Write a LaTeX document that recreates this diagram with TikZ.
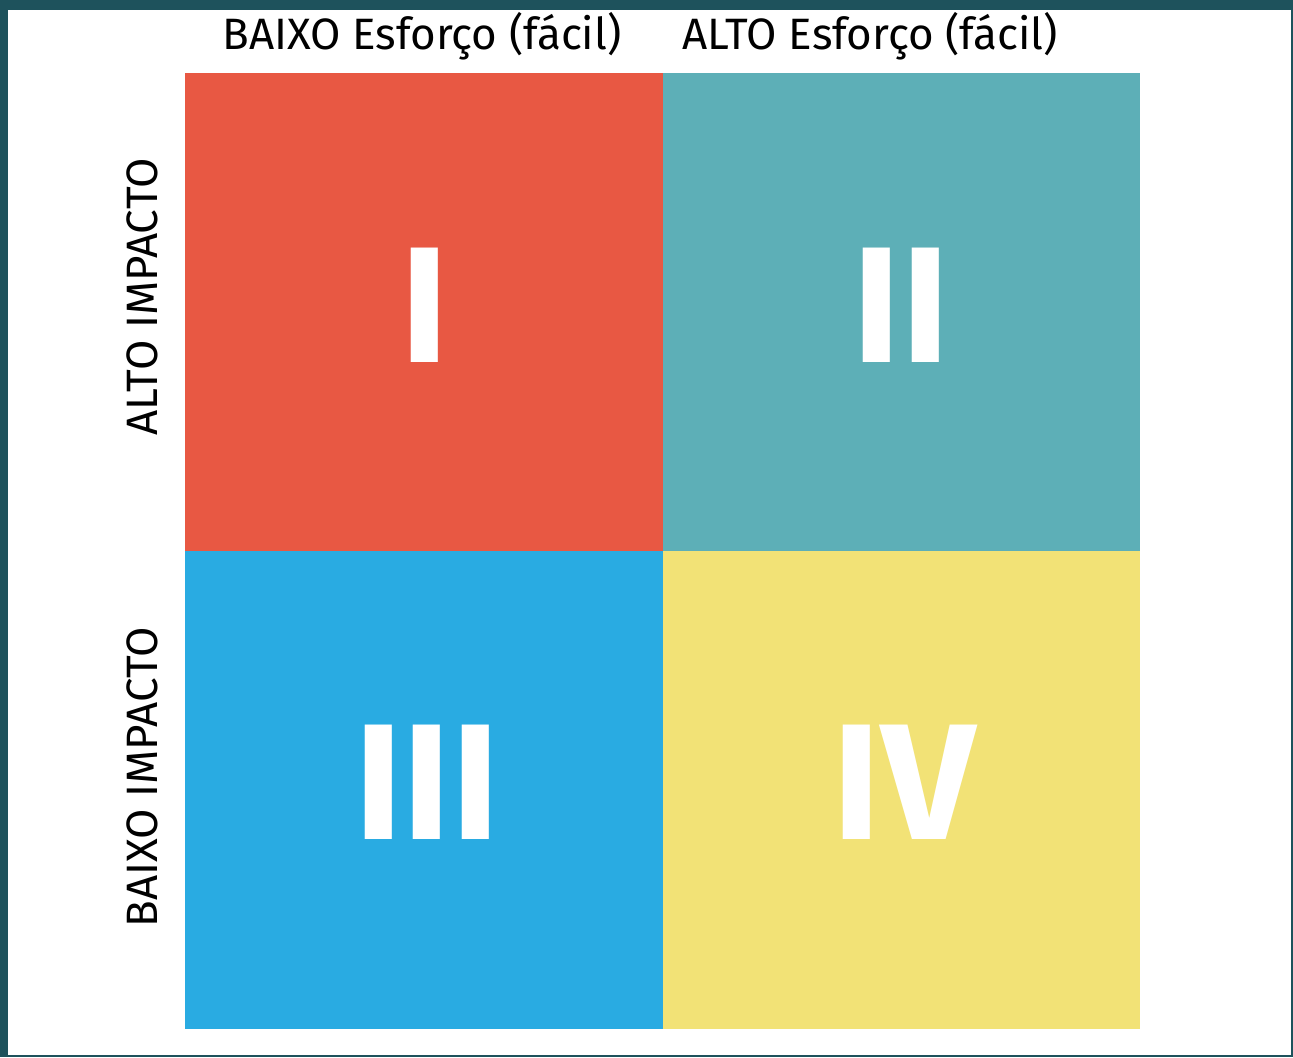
\documentclass[tikz,border=0pt]{standalone}
\usepackage{fontspec}
\setmainfont{Fira Sans}
\usetikzlibrary{positioning}
\definecolor{frame}{RGB}{30,82,92}
\definecolor{redq}{RGB}{232,88,67}
\definecolor{tealq}{RGB}{93,175,183}
\definecolor{blueq}{RGB}{41,171,226}
\definecolor{yellowq}{RGB}{242,226,118}
\begin{document}
\begin{tikzpicture}[x=0.02cm,y=-0.02cm,
  quad/.style={fill=#1,draw=#1,line width=0.8pt,minimum width=9.52cm,minimum height=9.52cm,inner sep=0pt,outer sep=0pt},
  numeral/.style={text=white,inner sep=0pt,font=\fontsize{94}{94}\selectfont\bfseries},
  axislabel/.style={inner sep=0pt,anchor=base,font=\fontsize{25}{25}\selectfont}]
\useasboundingbox (0,0) rectangle (1293,1057);
\fill[frame] (0,0) rectangle (1293,1057);
\fill[white] (8,10) rectangle (1291,1055);
% quadrants
\node[quad=redq] (q1) at (424,312) {};
\node[quad=tealq] (q2) at (901.5,312) {};
\node[quad=blueq] (q3) at (424,790) {};
\node[quad=yellowq] (q4) at (901.5,790) {};
% numerals
\node[numeral] (n1) at (425,305) {I};
\node[numeral] (n2) at (901,305) {II};
\node[numeral] (n3) at (427,782) {III};
\node[numeral] (n4) at (904,782) {IV};
% axis labels
\node[axislabel] (effortlow) at (422,50) {BAIXO Esforço (fácil)};
\node[axislabel] (efforthigh) at (870,50) {ALTO Esforço (fácil)};
\node[axislabel,rotate=90] (impacthigh) at (157,297) {ALTO IMPACTO};
\node[axislabel,rotate=90] (impactlow) at (157,777) {BAIXO IMPACTO};
\end{tikzpicture}
\end{document}
